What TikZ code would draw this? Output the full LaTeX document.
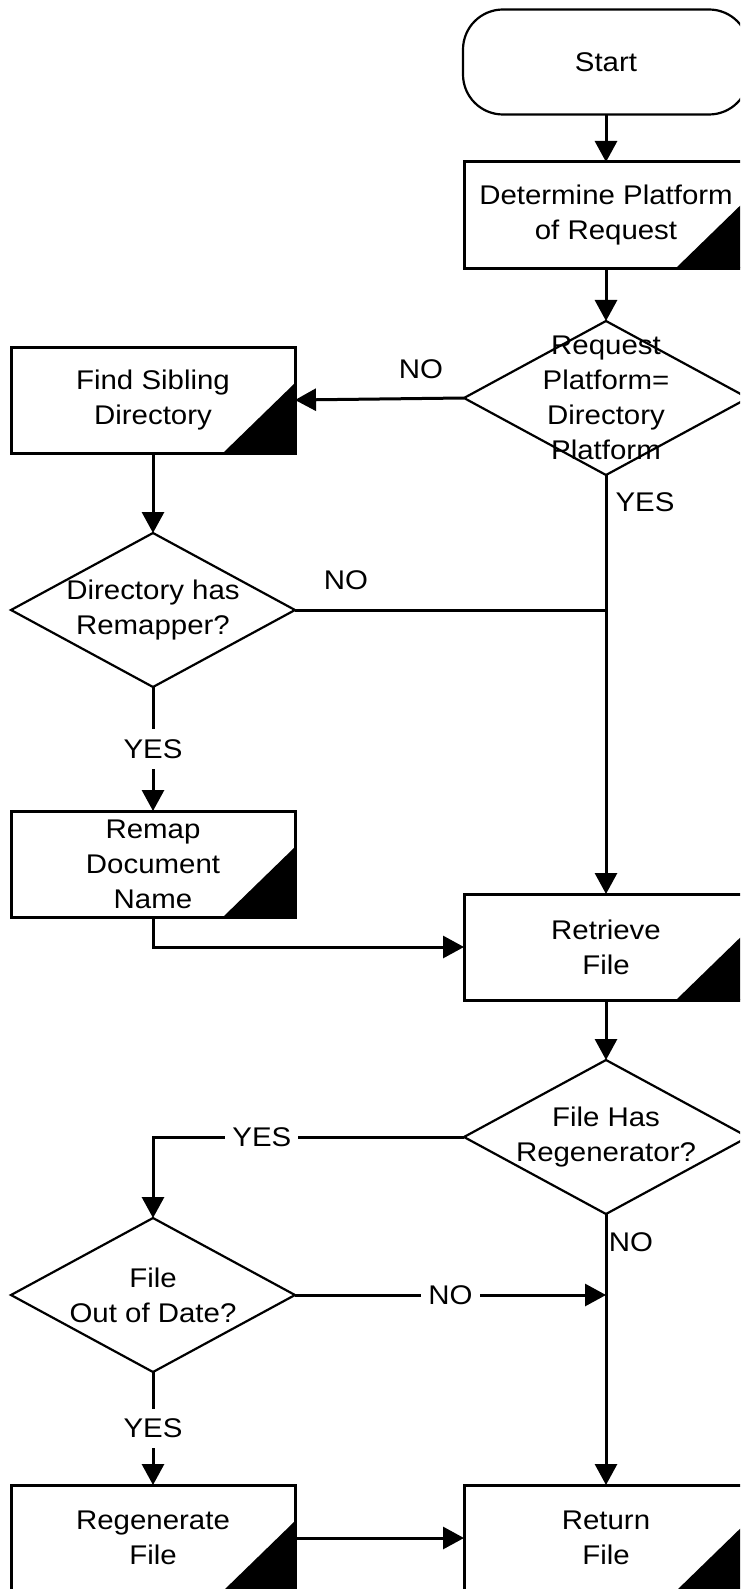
\documentclass[tikz,border=0pt]{standalone}
\usepackage{fontspec}
\setmainfont{Liberation Sans}[FakeStretch=1.09]
\usetikzlibrary{arrows.meta,shapes.geometric}
\begin{document}
\begin{tikzpicture}[x=1pt,y=-1pt,
  every node/.style={font=\fontsize{27}{35}\selectfont, outer sep=0pt},
  term/.style={draw, line width=2.2pt, rounded corners=40pt,
    minimum width=286pt, minimum height=105pt, inner sep=0pt},
  proc/.style={draw, line width=3pt, minimum width=284pt,
    minimum height=106pt, align=center, inner sep=0pt},
  decide/.style={draw, diamond, line width=2.2pt, minimum width=284pt,
    minimum height=154pt, inner sep=0pt},
  dtext/.style={align=center, inner sep=0pt},
  conn/.style={line width=3pt, -{Triangle[length=21pt,width=22pt]}},
  plain/.style={line width=3pt},
  lbl/.style={fill=white, inner xsep=7pt, inner ysep=10pt},
  tag/.style={inner sep=0pt}]

\useasboundingbox (0,0) rectangle (740,1589);
\clip (0,0) rectangle (740,1589);

% steps and decisions
\node[term] (start) at (606,62) {Start};
\node[proc] (det) at (606,215) {Determine Platform\\of Request};
\node[decide] (d1) at (606,398) {};
\node[dtext] (d1t) at (d1) {Request\\Platform=\\Directory\\Platform};
\node[proc] (sib) at (153,400) {Find Sibling\\Directory};
\node[decide] (d2) at (153,610) {};
\node[dtext] (d2t) at (d2) {Directory has\\Remapper?};
\node[proc] (remap) at (153,864) {Remap\\Document\\Name};
\node[proc] (retr) at (606,947) {Retrieve\\File};
\node[decide] (d3) at (606,1137) {};
\node[dtext] (d3t) at (d3) {File Has\\Regenerator?};
\node[decide] (d4) at (153,1295) {};
\node[dtext] (d4t) at (d4) {File\\Out of Date?};
\node[proc] (regen) at (153,1538) {Regenerate\\File};
\node[proc] (ret) at (606,1538) {Return\\File};

% black corner marks on the process boxes
\foreach \b in {det,sib,remap,retr,regen,ret}
  \fill (\b.south east) -- ++(-72,0) -- ++(72,-70) -- cycle;

% junctions on the right trunk
\coordinate (j1) at (606,610);
\coordinate (j2) at (606,1295);

% connectors
\draw[conn] (start) -- (det);
\draw[conn] (det) -- (d1);
\draw[conn] (d1.west) -- (sib.east);
\draw[conn] (d1.south) -- (retr.north);
\draw[conn] (sib.south) -- (d2.north);
\draw[plain] (d2.east) -- (j1);
\draw[conn] (d2.south) -- node[lbl] (y2) {YES} (remap.north);
\draw[conn] (remap.south) |- (retr.west);
\draw[conn] (retr.south) -- (d3.north);
\draw[conn] (d3.west) -| node[lbl, pos=0.325] (y3) {YES} (d4.north);
\draw[conn] (d3.south) -- (ret.north);
\draw[conn] (d4.east) -- node[lbl] (n4) {NO} (j2);
\draw[conn] (d4.south) -- node[lbl] (y4) {YES} (regen.north);
\draw[conn] (regen.east) -- (ret.west);

% branch labels beside the lines
\node[tag] (n1) at (421,369) {NO};
\node[tag] (y1) at (645,502) {YES};
\node[tag] (n2) at (346,580) {NO};
\node[tag] (n3) at (631,1242) {NO};
\end{tikzpicture}
\end{document}
